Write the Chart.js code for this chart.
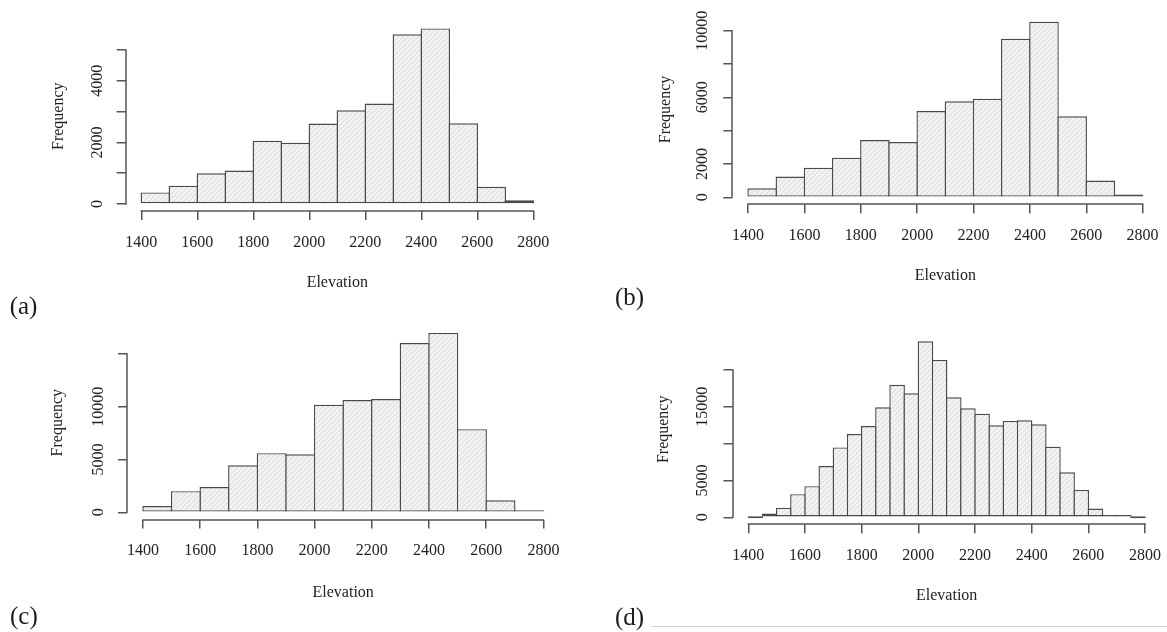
<!DOCTYPE html>
<html>
<head>
<meta charset="utf-8">
<script src="https://cdn.jsdelivr.net/npm/chart.js@4.4.1/dist/chart.umd.min.js"></script>
<style>
  html, body { margin: 0; padding: 0; background: #ffffff; }
  body { position: relative; width: 1167px; height: 632px; overflow: hidden; }
  canvas.hist { position: absolute; left: 0; top: 0; }
  .tag { position: absolute; font-family: "Liberation Serif", "Times New Roman", Times, serif;
         font-size: 25px; line-height: 25px; color: #1c1c1c; white-space: nowrap;
         transform: translate(-50%, -50%); }
  .rule { position: absolute; left: 651px; top: 626px; width: 516px; height: 0;
          border-top: 1px solid #d2d2d2; }
</style>
</head>
<body>
<canvas class="hist" id="histA" width="1200" height="640"></canvas>
<canvas class="hist" id="histB" width="1200" height="640"></canvas>
<canvas class="hist" id="histC" width="1200" height="640"></canvas>
<canvas class="hist" id="histD" width="1200" height="640"></canvas>
<div class="rule"></div>
<script>
// ---- data -------------------------------------------------------------
const elevationTicks = [1400, 1600, 1800, 2000, 2200, 2400, 2600, 2800];

// lower bin edges (100 m bins for a-c, 50 m bins for d)
const binsCoarse = [1400, 1500, 1600, 1700, 1800, 1900, 2000, 2100, 2200, 2300, 2400, 2500, 2600, 2700];
const binsFine = [1400, 1450, 1500, 1550, 1600, 1650, 1700, 1750, 1800, 1850, 1900, 1950, 2000, 2050,
                  2100, 2150, 2200, 2250, 2300, 2350, 2400, 2450, 2500, 2550, 2600, 2650, 2700, 2750];

const freqA = [375, 595, 995, 1085, 2055, 1985, 2610, 3040, 3260, 5510, 5700, 2620, 560, 120];
const freqB = [540, 1240, 1780, 2380, 3440, 3320, 5180, 5760, 5920, 9520, 10540, 4860, 1000, 160];
const freqC = [600, 2000, 2400, 4460, 5600, 5500, 10200, 10630, 10730, 16040, 16990, 7880, 1140, 130];
const freqD = [0, 500, 1300, 3130, 4220, 6960, 9480, 11290, 12380, 14940, 17980, 16830, 23890, 21360,
               16290, 14800, 14070, 12490, 13080, 13170, 12620, 9590, 6110, 3710, 1180, 320, 140, 0];

const yTicksA = [0, 1000, 2000, 3000, 4000, 5000];
const yLabelsA = [0, 2000, 4000];
const yTicksB = [0, 2000, 4000, 6000, 8000, 10000];
const yLabelsB = [0, 2000, 6000, 10000];
const yTicksC = [0, 5000, 10000, 15000];
const yLabelsC = [0, 5000, 10000];
const yTicksD = [0, 5000, 10000, 15000, 20000];
const yLabelsD = [0, 5000, 15000];

const panelTags = ['(a)', '(b)', '(c)', '(d)'];
const xTitle = 'Elevation';
const yTitle = 'Frequency';

// ---- layout (page pixels: plot box, title and label placement) ----------
const frames = [
  { L: 125.6, R: 549.0,  T: 21.4,  B: 211.0, yTitleX: 58.8,  xTitleY: 283.0, yLabX: 98.0,  xLabY: 242.5, tagX: 23.5,  tagY: 306.5 },
  { L: 732.3, R: 1158.4, T: 14.7,  B: 204.3, yTitleX: 665.4, xTitleY: 275.3, yLabX: 703.0, xLabY: 235.3, tagX: 629.5, tagY: 297.5 },
  { L: 127.0, R: 559.4,  T: 325.8, B: 519.5, yTitleX: 57.7,  xTitleY: 592.7, yLabX: 99.0,  xLabY: 551.0, tagX: 23.9,  tagY: 617.0 },
  { L: 732.5, R: 1160.9, T: 334.3, B: 524.3, yTitleX: 663.5, xTitleY: 596.0, yLabX: 703.0, xLabY: 556.0, tagX: 629.5, tagY: 618.3 }
];

// ---- style --------------------------------------------------------------
const FONT = "'Liberation Serif', 'Times New Roman', Times, serif";
const FS = 16;
const HALF_LINE = FS * 1.2 / 2;
const TICK_LEN = 9;
const AXIS_COLOR = '#555555';
const AXIS_WIDTH = 1.5;
const TEXT_COLOR = '#222222';
const BAR_EDGE = '#4a4a4a';
const BAR_EDGE_W = 1.4;
const CW = 1200, CH = 640;

function hatch(ctx) {
  const s = 5;
  const tile = document.createElement('canvas');
  tile.width = s; tile.height = s;
  const g = tile.getContext('2d');
  g.fillStyle = '#f2f2f2';
  g.fillRect(0, 0, s, s);
  g.strokeStyle = '#d6d6d6';
  g.lineWidth = 0.9;
  g.beginPath();
  g.moveTo(0, s); g.lineTo(s, 0);
  g.moveTo(-1, 1); g.lineTo(1, -1);
  g.moveTo(s - 1, s + 1); g.lineTo(s + 1, s - 1);
  g.stroke();
  return ctx.createPattern(tile, 'repeat');
}

function textWidth(str) {
  const c = document.createElement('canvas').getContext('2d');
  c.font = FS + 'px ' + FONT;
  return c.measureText(str).width;
}

// axis lines that run only from the first to the last tick
const tickRangeAxes = {
  id: 'tickRangeAxes',
  afterDraw(chart) {
    const { ctx, chartArea: a, scales: { x, y } } = chart;
    const xt = x.ticks, yt = y.ticks;
    const bx = Math.round(a.bottom), lx = Math.round(a.left);
    ctx.save();
    ctx.strokeStyle = AXIS_COLOR;
    ctx.lineWidth = AXIS_WIDTH;
    ctx.lineCap = 'square';
    ctx.beginPath();
    ctx.moveTo(x.getPixelForValue(xt[0].value), bx);
    ctx.lineTo(x.getPixelForValue(xt[xt.length - 1].value), bx);
    ctx.moveTo(lx, y.getPixelForValue(yt[0].value));
    ctx.lineTo(lx, y.getPixelForValue(yt[yt.length - 1].value));
    ctx.stroke();
    ctx.restore();
  }
};

function histogram(id, bins, binWidth, counts, yTicks, yLabels, f) {
  const canvas = document.getElementById(id);
  const ctx = canvas.getContext('2d');

  const first = elevationTicks[0], last = elevationTicks[elevationTicks.length - 1];
  const ext = 0.04 * (last - first);
  const xMin = first - ext, xMax = last + ext;
  const yTop = Math.max(...counts);
  const yMin = -0.04 * yTop, yMax = 1.04 * yTop;

  const padLeft = f.yTitleX - HALF_LINE;
  const padBottom = CH - (f.xTitleY + HALF_LINE);
  const yAxisW = f.L - padLeft;
  const xAxisH = f.xTitleY + HALF_LINE - f.B;
  const widest = Math.max(...yLabels.map(v => textWidth(String(v))));
  const yPad = f.L - TICK_LEN - widest / 2 - f.yLabX;
  const xPad = f.xLabY - f.B - TICK_LEN - HALF_LINE;

  const binPx = binWidth * (f.R - f.L) / (xMax - xMin);
  const points = counts.map((c, i) => ({ x: bins[i] + binWidth / 2, y: c }));

  const tickGrid = {
    display: true, drawOnChartArea: false, drawTicks: true, offset: false,
    tickLength: TICK_LEN, color: AXIS_COLOR, lineWidth: AXIS_WIDTH
  };
  const font = { family: FONT, size: FS };

  return new Chart(canvas, {
    type: 'bar',
    data: {
      datasets: [{
        data: points,
        backgroundColor: hatch(ctx),
        borderColor: BAR_EDGE,
        borderWidth: BAR_EDGE_W,
        borderSkipped: false,
        minBarLength: 2.2,
        categoryPercentage: 1,
        barPercentage: 1 + BAR_EDGE_W / binPx
      }]
    },
    options: {
      responsive: false,
      animation: false,
      devicePixelRatio: 1,
      events: [],
      layout: { padding: { left: padLeft, top: f.T, right: CW - f.R, bottom: padBottom } },
      plugins: { legend: { display: false }, tooltip: { enabled: false }, title: { display: false } },
      scales: {
        x: {
          type: 'linear', min: xMin, max: xMax, bounds: 'data', offset: false,
          afterBuildTicks: s => { s.ticks = elevationTicks.map(v => ({ value: v })); },
          afterFit: s => { s.height = xAxisH; },
          grid: tickGrid,
          border: { display: false },
          ticks: { autoSkip: false, minRotation: 0, maxRotation: 0, padding: xPad,
                   font, color: TEXT_COLOR, callback: v => String(v) },
          title: { display: true, text: xTitle, font, color: TEXT_COLOR, padding: 0 }
        },
        y: {
          type: 'linear', min: yMin, max: yMax, bounds: 'data',
          afterBuildTicks: s => { s.ticks = yTicks.map(v => ({ value: v })); },
          afterFit: s => { s.width = yAxisW; },
          grid: tickGrid,
          border: { display: false },
          ticks: { autoSkip: false, minRotation: 90, maxRotation: 90, crossAlign: 'center',
                   padding: yPad, font, color: TEXT_COLOR,
                   callback: v => (yLabels.includes(v) ? String(v) : '') },
          title: { display: true, text: yTitle, font, color: TEXT_COLOR, padding: 0 }
        }
      }
    },
    plugins: [tickRangeAxes]
  });
}

histogram('histA', binsCoarse, 100, freqA, yTicksA, yLabelsA, frames[0]);
histogram('histB', binsCoarse, 100, freqB, yTicksB, yLabelsB, frames[1]);
histogram('histC', binsCoarse, 100, freqC, yTicksC, yLabelsC, frames[2]);
histogram('histD', binsFine, 50, freqD, yTicksD, yLabelsD, frames[3]);

// panel letters
frames.forEach((f, i) => {
  const d = document.createElement('div');
  d.className = 'tag';
  d.textContent = panelTags[i];
  d.style.left = f.tagX + 'px';
  d.style.top = (f.tagY - 2) + 'px';
  document.body.appendChild(d);
});
</script>
</body>
</html>
